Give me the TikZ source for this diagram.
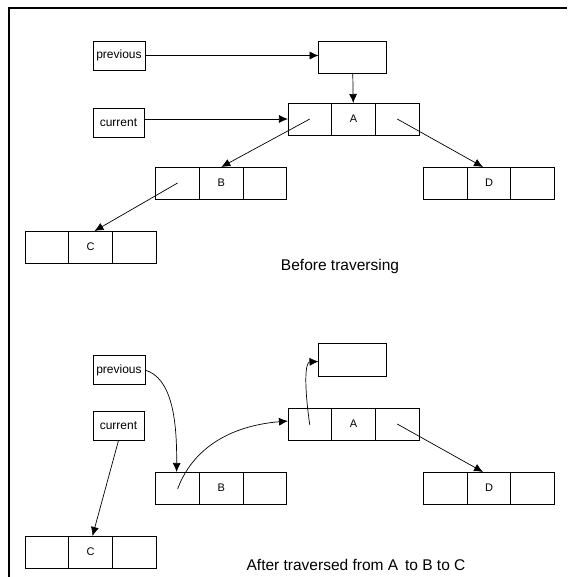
\documentclass[tikz,border=0pt]{standalone}
\usepackage{fontspec}
\setmainfont{Liberation Sans}
\usetikzlibrary{positioning,arrows.meta}

\begin{document}
\begin{tikzpicture}[x=1pt,y=-1pt,
        cell/.style={draw,line width=0.8pt,minimum width=43.7pt,minimum height=32pt,inner sep=0pt,outer sep=0pt,font=\fontsize{11}{12}\selectfont},
        ptrbox/.style={draw,line width=0.8pt,minimum height=29pt,inner sep=1pt,outer sep=0pt,font=\fontsize{12}{13}\selectfont},
        link/.style={-{Latex[length=9pt,width=8pt]},line width=0.7pt},
        caption/.style={font=\fontsize{15.5}{17}\selectfont}]
    \useasboundingbox (0,0) rectangle (567,577);
    \draw[line width=2pt] (9,577) -- (9,8) -- (567,8);
    % three-cell records
    \foreach \n/\x/\y/\t in {A/353.5/119/A, B/221.3/183/B, D/489/183/D, C/90.5/247/C,
                            A2/353.5/424/A, B2/221.3/488/B, D2/489/488/D, C2/90.5/552/C}{
        \node[cell] (\n) at (\x,\y) {\t};
        \node[cell,left=0pt of \n] (l\n) {};
        \node[cell,right=0pt of \n] (r\n) {};
    }
    % before
    \node[ptrbox,minimum width=52pt] (prev) at (119,55.5) {previous};
    \node[ptrbox,minimum width=51pt] (cur) at (118.5,122.5) {current};
    \node[draw,line width=0.8pt,minimum width=68pt,minimum height=32pt,outer sep=0pt] (top) at (352.5,57) {};
    \draw[link] (prev.east) -- (prev.east -| top.west);
    \draw[link] (top) -- (A);
    \draw[link] (cur.east |- lA.west) -- (lA.west);
    \draw[link] (lA.center) -- (B.north);
    \draw[link] (rA.center) -- ([xshift=-6pt]D.north);
    \draw[link] (lB.center) -- ([xshift=4pt]C.north);
    \node[caption] (before) at (340,266) {Before traversing};
    % after
    \node[ptrbox,minimum width=52pt] (prev2) at (119,370) {previous};
    \node[ptrbox,minimum width=51pt] (cur2) at (118.5,426) {current};
    \node[draw,line width=0.8pt,minimum width=68pt,minimum height=33pt,outer sep=0pt] (top2) at (352.5,359.5) {};
    \draw[link] (prev2.east) .. controls (172,378) and (177,420) .. ([xshift=-1pt]lB2.north);
    \draw[link] (cur2.south) -- ([xshift=2pt]C2.north);
    \draw[link] ([yshift=-1pt]lB2.center) .. controls (192,450) and (228,426) .. ([yshift=3pt]lA2.west);
    \draw[link] ([yshift=-1pt]lA2.center) .. controls (304,385) and (305,362) .. ([yshift=-2pt]top2.west);
    \draw[link] (rA2.center) -- ([xshift=-6pt]D2.north);
    \node[caption] (after) at (356,565) {After traversed from A\, to B to C};
\end{tikzpicture}
\end{document}
